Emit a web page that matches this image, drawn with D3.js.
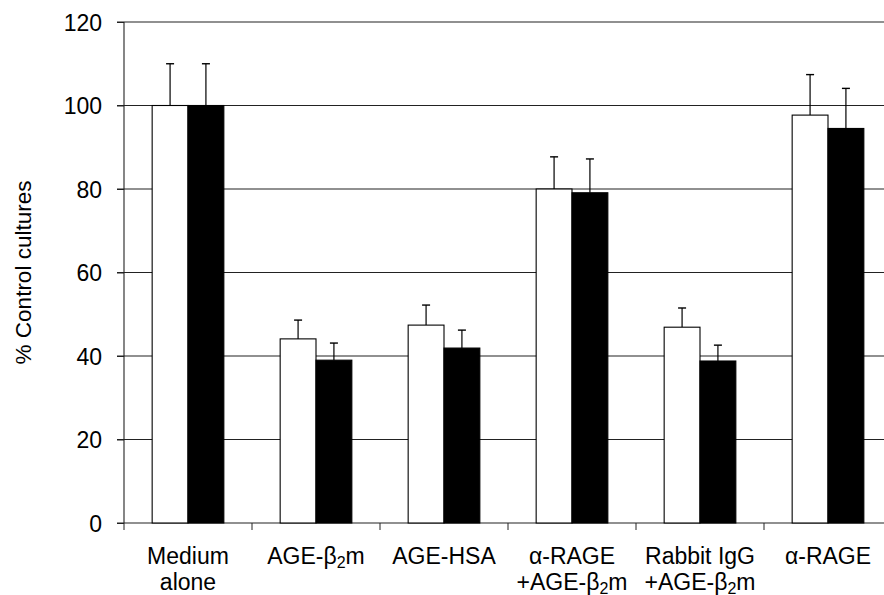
<!DOCTYPE html>
<html lang="en">
<head>
<meta charset="UTF-8">
<title>% Control cultures</title>
<style>
  body { margin: 0; background: #fff; }
  text { font-family: "Liberation Sans", Arial, sans-serif; fill: #000; }
</style>
</head>
<body>
<svg width="884" height="595"></svg>
<script src="https://d3js.org/d3.v7.min.js"></script>
<script>
// data
var categories = ["medium", "ageb2m", "agehsa", "ragePlusAge", "igg", "rage"];
var labelLines = [
  ["Medium", "alone"],
  ["AGE-β{2}m"],
  ["AGE-HSA"],
  ["α-RAGE", "+AGE-β{2}m"],
  ["Rabbit IgG", "+AGE-β{2}m"],
  ["α-RAGE"]
];
var whiteValues = [100, 44.1, 47.4, 80.0, 46.9, 97.7];
var whiteErr    = [10, 4.5, 4.8, 7.7, 4.6, 9.7];
var blackValues = [100, 39.0, 41.9, 79.1, 38.8, 94.5];
var blackErr    = [10, 4.1, 4.3, 8.1, 3.8, 9.6];
var yTicks = [0, 20, 40, 60, 80, 100, 120];

var svg = d3.select("svg");
var pl = 124, pr = 892, pt = 22, pb = 523;

var x = d3.scaleBand().domain(categories).range([pl, pr]).padding(0);
var y = d3.scaleLinear().domain([0, 120]).range([pb, pt]);
var barW = x.bandwidth() * 0.28;

// gridlines
svg.append("g")
  .selectAll("line")
  .data(yTicks.filter(d => d > 0))
  .enter().append("line")
  .attr("x1", pl - 7).attr("x2", 884)
  .attr("y1", d => y(d)).attr("y2", d => y(d))
  .attr("stroke", "#222").attr("stroke-width", 1.1);

// y axis
var yAxis = d3.axisLeft(y).tickValues(yTicks).tickSize(7).tickPadding(15);
var gy = svg.append("g").attr("transform", `translate(${pl},0)`).call(yAxis);
gy.select(".domain").remove();
gy.selectAll(".tick line").attr("stroke", "#222");
gy.selectAll(".tick text")
  .style("font-size", "23px")
  .style("font-family", "'Liberation Sans', Arial, sans-serif")
  .attr("dy", "0.36em");
svg.append("line")
  .attr("x1", pl).attr("x2", pl).attr("y1", pt).attr("y2", pb)
  .attr("stroke", "#222").attr("stroke-width", 1.1);

// x axis line and category ticks
svg.append("line")
  .attr("x1", pl - 7).attr("x2", 884).attr("y1", pb).attr("y2", pb)
  .attr("stroke", "#222").attr("stroke-width", 1.1);
svg.append("g")
  .selectAll("line")
  .data(categories)
  .enter().append("line")
  .attr("x1", d => x(d)).attr("x2", d => x(d))
  .attr("y1", pb).attr("y2", pb + 7)
  .attr("stroke", "#222");

// bars
var series = [
  { values: whiteValues, err: whiteErr, fill: "#fff", off: -1 },
  { values: blackValues, err: blackErr, fill: "#000", off: 0 }
];
series.forEach(function (s) {
  var g = svg.append("g");
  var bx = i => x(categories[i]) + x.bandwidth() / 2 + s.off * barW;
  g.selectAll("line.err")
    .data(s.values)
    .enter().append("line")
    .attr("class", "err")
    .attr("x1", (d, i) => bx(i) + barW / 2).attr("x2", (d, i) => bx(i) + barW / 2)
    .attr("y1", d => y(d)).attr("y2", (d, i) => y(d + s.err[i]))
    .attr("stroke", "#000").attr("stroke-width", 1.2);
  g.selectAll("line.cap")
    .data(s.values)
    .enter().append("line")
    .attr("class", "cap")
    .attr("x1", (d, i) => bx(i) + barW / 2 - 4).attr("x2", (d, i) => bx(i) + barW / 2 + 4)
    .attr("y1", (d, i) => y(d + s.err[i])).attr("y2", (d, i) => y(d + s.err[i]))
    .attr("stroke", "#000").attr("stroke-width", 1.4);
  g.selectAll("rect")
    .data(s.values)
    .enter().append("rect")
    .attr("x", (d, i) => bx(i))
    .attr("y", d => y(d))
    .attr("width", barW)
    .attr("height", d => pb - y(d))
    .attr("fill", s.fill)
    .attr("stroke", "#000").attr("stroke-width", 1.1);
});

// category labels with subscripts
var lab = svg.append("g");
categories.forEach(function (c, i) {
  labelLines[i].forEach(function (line, j) {
    var t = lab.append("text")
      .attr("x", x(c) + x.bandwidth() / 2)
      .attr("y", 564 + j * 26)
      .attr("text-anchor", "middle")
      .style("font-size", "23px");
    var shift = 0;
    line.split(/(\{\d\})/).forEach(function (part) {
      if (!part) return;
      var m = part.match(/^\{(\d)\}$/);
      if (m) {
        t.append("tspan").text(m[1]).attr("dy", 4).style("font-size", "16px");
        shift = -4;
      } else {
        t.append("tspan").text(part).attr("dy", shift);
        shift = 0;
      }
    });
  });
});

// y label
svg.append("text")
  .attr("transform", `translate(31,${(pt + pb) / 2}) rotate(-90)`)
  .attr("text-anchor", "middle")
  .style("font-size", "22.5px")
  .text("% Control cultures");
</script>
</body>
</html>
